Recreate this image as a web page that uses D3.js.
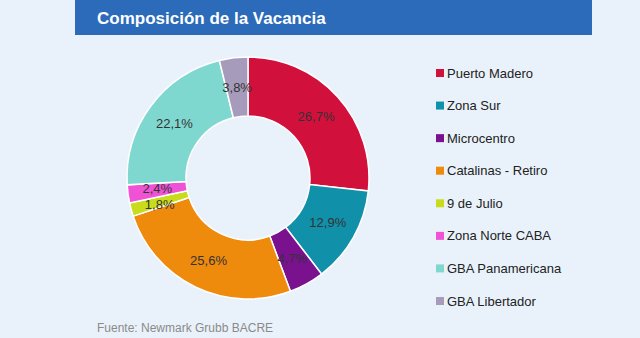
<!DOCTYPE html>
<html>
<head>
<meta charset="utf-8">
<script src="https://cdn.jsdelivr.net/npm/d3@7"></script>
<style>
  html, body { margin: 0; padding: 0; background: #e9f2fa; }
  svg { display: block; }
</style>
</head>
<body>
<svg id="chart" width="640" height="338"></svg>
<script>
// Vacancy composition by submarket (share of total, %)
const categories = ["Puerto Madero", "Zona Sur", "Microcentro", "Catalinas - Retiro",
                    "9 de Julio", "Zona Norte CABA", "GBA Panamericana", "GBA Libertador"];
const shares = [26.7, 12.9, 4.7, 25.6, 1.8, 2.4, 22.1, 3.8];
const colors = ["#d2103c", "#1190a9", "#7a1290", "#ee8a0c", "#c9dc1c", "#f052d6", "#7fd8d0", "#a69bbb"];

const title = "Composición de la Vacancia";
const source = "Fuente: Newmark Grubb BACRE";

const svg = d3.select("#chart");
const W = 640, H = 338;

svg.append("rect").attr("width", W).attr("height", H).attr("fill", "#e9f2fa");

// Header band
svg.append("rect").attr("x", 75).attr("y", 0).attr("width", 517).attr("height", 35)
  .attr("fill", "#2b6bb9");
svg.append("text").attr("x", 97).attr("y", 24)
  .attr("font-family", "Liberation Sans, Arial, sans-serif")
  .attr("font-size", 17).attr("font-weight", "bold").attr("fill", "#ffffff")
  .text(title);

// Donut
const cx = 248, cy = 178, outerR = 121, innerR = 62;
const data = categories.map((c, i) => ({ name: c, value: shares[i], color: colors[i] }));
const pie = d3.pie().value(d => d.value).sort(null);
const arc = d3.arc().innerRadius(innerR).outerRadius(outerR);
const fmt = v => v.toFixed(1).replace(".", ",") + "%";

const g = svg.append("g").attr("transform", `translate(${cx},${cy})`);
const arcs = pie(data);
g.selectAll("path").data(arcs).enter().append("path")
  .attr("d", arc).attr("fill", d => d.data.color)
  .attr("stroke", "#ffffff").attr("stroke-width", 1.5);

// Label positions at slice centroids; neighbouring labels that would
// collide are pushed apart vertically.
const pos = arcs.map(d => arc.centroid(d));
const minGap = 16;
for (let i = 1; i < pos.length; i++) {
  const a = pos[i - 1], b = pos[i];
  if (Math.abs(a[0] - b[0]) < 30 && Math.abs(a[1] - b[1]) < minGap) {
    const shift = (minGap - Math.abs(a[1] - b[1])) / 2;
    if (a[1] < b[1]) { a[1] -= shift; b[1] += shift; } else { a[1] += shift; b[1] -= shift; }
  }
}

g.selectAll("text.lbl").data(arcs).enter().append("text").attr("class", "lbl")
  .attr("transform", (d, i) => `translate(${pos[i]})`)
  .attr("text-anchor", "middle").attr("dy", "0.35em")
  .attr("font-family", "Liberation Sans, Arial, sans-serif")
  .attr("font-size", 13).attr("fill", "#333333")
  .text(d => fmt(d.data.value));

// Legend
const ly = d3.scalePoint().domain(categories).range([73, 301]);
const leg = svg.append("g");
categories.forEach((c, i) => {
  leg.append("rect").attr("x", 436).attr("y", ly(c) - 4).attr("width", 8).attr("height", 8)
    .attr("fill", colors[i]);
  leg.append("text").attr("x", 447).attr("y", ly(c)).attr("dy", "0.35em")
    .attr("font-family", "Liberation Sans, Arial, sans-serif")
    .attr("font-size", 13).attr("fill", "#222222").text(c);
});

// Source note
svg.append("text").attr("x", 97).attr("y", 332)
  .attr("font-family", "Liberation Sans, Arial, sans-serif")
  .attr("font-size", 12).attr("fill", "#8a8a8a").text(source);
</script>
</body>
</html>
